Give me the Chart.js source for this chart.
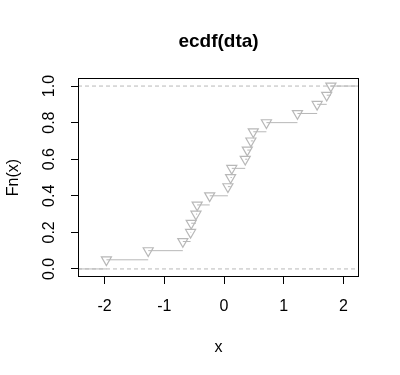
<!DOCTYPE html>
<html>
<head>
<meta charset="utf-8">
<script src="https://cdn.jsdelivr.net/npm/chart.js@4/dist/chart.umd.min.js"></script>
<style>
  html, body { margin: 0; padding: 0; background: #fff; }
  #wrap { width: 400px; height: 375px; }
</style>
</head>
<body>
<div id="wrap"><canvas id="ecdfChart"></canvas></div>
<script>
// sorted sample values (jump points) and the ecdf level at each one
const dta = [-1.97, -1.27, -0.69, -0.56, -0.55, -0.47, -0.45, -0.24, 0.065, 0.11,
             0.13, 0.355, 0.39, 0.45, 0.49, 0.71, 1.23, 1.56, 1.72, 1.79];
const fn = [0.05, 0.10, 0.15, 0.20, 0.25, 0.30, 0.35, 0.40, 0.45, 0.50,
            0.55, 0.60, 0.65, 0.70, 0.75, 0.80, 0.85, 0.90, 0.95, 1.00];
const xTicks = [-2, -1, 0, 1, 2];
const yTicks = [0, 0.2, 0.4, 0.6, 0.8, 1.0];
const refLevels = [0, 1];

const xMin = -2.446, xMax = 2.261;
const yMin = -0.044, yMax = 1.044;
const gray = '#b8b8b8';
const font = 'Liberation Sans, Arial, sans-serif';

// horizontal pieces only (no verticals), like plot.ecdf
var steps = [{x: xMin, y: 0}, {x: dta[0], y: 0}, {x: null, y: null}];
dta.forEach(function (v, i) {
    var next = i < dta.length - 1 ? dta[i + 1] : xMax;
    steps.push({x: v, y: fn[i]}, {x: next, y: fn[i]}, {x: null, y: null});
});

var refData = [];
refLevels.forEach(function (h) {
    refData.push({x: xMin, y: h}, {x: xMax, y: h}, {x: null, y: null});
});

// box around the plot region
const boxPlugin = {
    id: 'box',
    afterDraw(chart) {
        const a = chart.chartArea, c = chart.ctx;
        c.save();
        c.strokeStyle = '#000';
        c.lineWidth = 1;
        c.strokeRect(Math.round(a.left) + 0.5, Math.round(a.top) + 0.5,
                     Math.round(a.right - a.left) - 1, Math.round(a.bottom - a.top) - 1);
        c.restore();
    }
};

new Chart(document.getElementById('ecdfChart'), {
    type: 'scatter',
    data: {
        datasets: [
            {
                data: refData, showLine: true, spanGaps: false,
                borderColor: gray, borderWidth: 1, borderDash: [4, 3],
                pointRadius: 0
            },
            {
                data: steps, showLine: true, spanGaps: false,
                borderColor: gray, borderWidth: 1,
                pointRadius: 0
            },
            {
                data: dta.map(function (v, i) { return {x: v, y: fn[i]}; }),
                showLine: false,
                pointStyle: 'triangle', rotation: 180, pointRadius: 5.8,
                borderColor: gray, borderWidth: 1.2, backgroundColor: 'rgba(0,0,0,0)'
            }
        ]
    },
    options: {
        responsive: true,
        maintainAspectRatio: false,
        animation: false,
        events: [],
        layout: { padding: { left: 0, right: 41, top: 0, bottom: 0 } },
        plugins: {
            legend: { display: false },
            tooltip: { enabled: false },
            title: {
                display: true,
                fullSize: false,
                text: 'ecdf(dta)',
                color: '#000',
                font: { family: font, size: 19, weight: 'bold' },
                padding: { top: 30, bottom: 25.2 }
            }
        },
        scales: {
            x: {
                type: 'linear', min: xMin, max: xMax,
                afterBuildTicks: function (s) { s.ticks = xTicks.map(function (v) { return {value: v}; }); },
                afterFit: function (s) { s.height = 98; },
                border: { display: false },
                grid: { drawOnChartArea: false, drawTicks: true, tickLength: 7, color: '#000' },
                ticks: { color: '#000', font: { family: font, size: 16 }, padding: 13, maxRotation: 0 },
                title: {
                    display: true, text: 'x', color: '#000',
                    font: { family: font, size: 16 }, padding: { top: 18, bottom: 18 }
                }
            },
            y: {
                type: 'linear', min: yMin, max: yMax,
                afterBuildTicks: function (s) { s.ticks = yTicks.map(function (v) { return {value: v}; }); },
                afterFit: function (s) { s.width = 78; },
                border: { display: false },
                grid: { drawOnChartArea: false, drawTicks: true, tickLength: 7, color: '#000' },
                ticks: {
                    color: '#000', font: { family: font, size: 16 }, padding: 10,
                    minRotation: 90, maxRotation: 90, crossAlign: 'center',
                    callback: function (v) { return v.toFixed(1); }
                },
                title: {
                    display: true, text: 'Fn(x)', color: '#000',
                    font: { family: font, size: 16 }, padding: { top: 4, bottom: 4 }
                }
            }
        }
    },
    plugins: [boxPlugin]
});
</script>
</body>
</html>
